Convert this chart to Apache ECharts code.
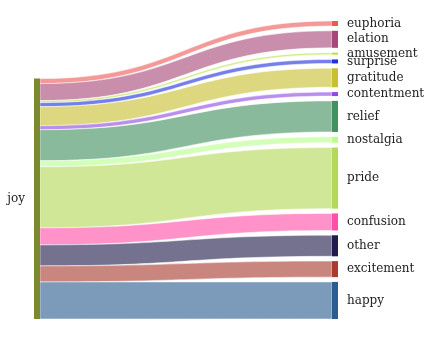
<!DOCTYPE html>
<html>
<head>
  <meta charset="UTF-8">
  <title>joy sankey</title>
  <script src="https://cdn.jsdelivr.net/npm/echarts@6/dist/echarts.min.js"></script>
  <style>
    html, body { margin: 0; padding: 0; background: #fff; }
    #main { width: 431px; height: 340px; }
  </style>
</head>
<body>
  <div id="main"></div>
  <script>
    const source = 'joy';
    const sourceColor = '#7a8a2c';
    const targets = ['euphoria', 'elation', 'amusement', 'surprise', 'gratitude', 'contentment',
      'relief', 'nostalgia', 'pride', 'confusion', 'other', 'excitement', 'happy'];
    const values = [5, 17, 2, 4, 19, 4, 31, 6, 61, 17, 21, 16, 37];
    const nodeColors = ['#ec5a58', '#a84878', '#b8e040', '#2030e0', '#c8c030', '#9048e0',
      '#409060', '#b8ff90', '#b4d858', '#ff50a8', '#201c4c', '#a83c30', '#2c5c90'];

    const chart = echarts.init(document.getElementById('main'));

    const padTop = 21, padBottom = 21, gap = 4.8;
    const plotH = 340 - padTop - padBottom;
    // source node sits flush with the bottom of the target column
    const joyLocalY = (targets.length - 1) * gap / plotH;

    const nodes = [{
      name: source,
      localY: joyLocalY,
      itemStyle: { color: sourceColor },
      label: { position: 'left' }
    }].concat(targets.map((t, i) => ({
      name: t,
      itemStyle: { color: nodeColors[i] }
    })));

    const links = targets.map((t, i) => ({
      source: source,
      target: t,
      value: values[i],
      lineStyle: { color: nodeColors[i] }
    }));

    chart.setOption({
      animation: false,
      series: [{
        type: 'sankey',
        left: 34,
        right: 93,
        top: padTop,
        bottom: padBottom,
        nodeWidth: 6,
        nodeGap: gap,
        layoutIterations: 0,
        draggable: false,
        emphasis: { disabled: true },
        data: nodes,
        links: links,
        itemStyle: { borderWidth: 0 },
        lineStyle: {
          opacity: 0.62,
          curveness: 0.5,
          borderColor: '#fff',
          borderWidth: 0.8
        },
        label: {
          color: '#222',
          fontFamily: 'DejaVu Serif',
          fontSize: 12,
          distance: 9
        }
      }]
    });
  </script>
</body>
</html>
